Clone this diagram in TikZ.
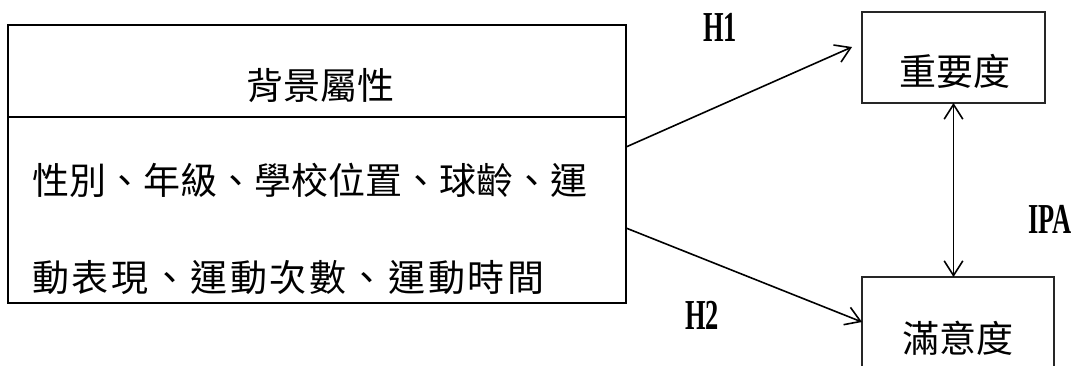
\documentclass[tikz,border=0pt]{standalone}
\usepackage{fontspec}
\setmainfont{Liberation Serif}
\newfontfamily\cjk{Noto Sans CJK TC}
\newfontfamily\hypfont[FakeStretch=0.62]{Liberation Serif Bold}
\usetikzlibrary{positioning,arrows.meta}

\begin{document}
\begin{tikzpicture}[x=0.75pt,y=-0.75pt,
    leftbox/.style={draw, line width=1.5pt, inner sep=0pt, outer sep=0pt, minimum width=463.5pt},
    rightbox/.style={draw=black!85, line width=0.8pt, inner sep=0pt, outer sep=0pt},
    cjktext/.style={inner sep=0pt, font=\cjk\fontsize{27.75pt}{30pt}\selectfont},
    hyplabel/.style={inner sep=0pt, font=\hypfont\fontsize{32pt}{32pt}\selectfont},
    hyparrow/.style={line width=1.2pt, -{Straight Barb[length=11pt,width=14pt]}}]

    \useasboundingbox (0,0) rectangle (1080,365);
    \clip (0,0) rectangle (1080,365);

    \node [leftbox, minimum height=69pt] (bgtitle) at (317,71) {}; % top part of left box
    \node [leftbox, minimum height=139.5pt, below=0pt of bgtitle] (bgbody) {}; % lower part of left box
    \node [cjktext] (bgname) at (320,86) {背景屬性}; % title of left box
    \node [cjktext, anchor=west] (bgline1) at (32,180) {性別、年級、學校位置、球齡、運}; % first line
    \node [cjktext, anchor=west, font=\cjk\fontsize{27.75pt}{30pt}\selectfont\addfontfeatures{LetterSpace=7}] (bgline2) at (32,278) {動表現、運動次數、運動時間}; % second line

    \node [rightbox, minimum width=137.25pt, minimum height=68.25pt] (imp) at (953.5,57.5) {}; % importance box
    \node [cjktext] (impname) at (955,71) {重要度};
    \node [rightbox, anchor=north west, minimum width=144pt, minimum height=90pt] (sat) at (862,277) {}; % satisfaction box
    \node [cjktext] (satname) at (958,338) {滿意度};

    \node [hyplabel] (h1) at (720,27) {H1};
    \node [hyplabel] (h2) at (702,315) {H2};
    \node [hyplabel] (ipa) at (1050,219) {IPA};

    \coordinate (h1end) at (852,47); % free tip of H1 arrow

    \draw [hyparrow] ([yshift=-22.5pt]bgbody.north east) -- (h1end);
    \draw [hyparrow] ([yshift=-83.25pt]bgbody.north east) -- ([yshift=-33.75pt]sat.north west);
    \draw [hyparrow, {Straight Barb[length=11pt,width=14pt]}-{Straight Barb[length=11pt,width=14pt]}] (imp.south) -- (imp.south |- sat.north);
\end{tikzpicture}
\end{document}
